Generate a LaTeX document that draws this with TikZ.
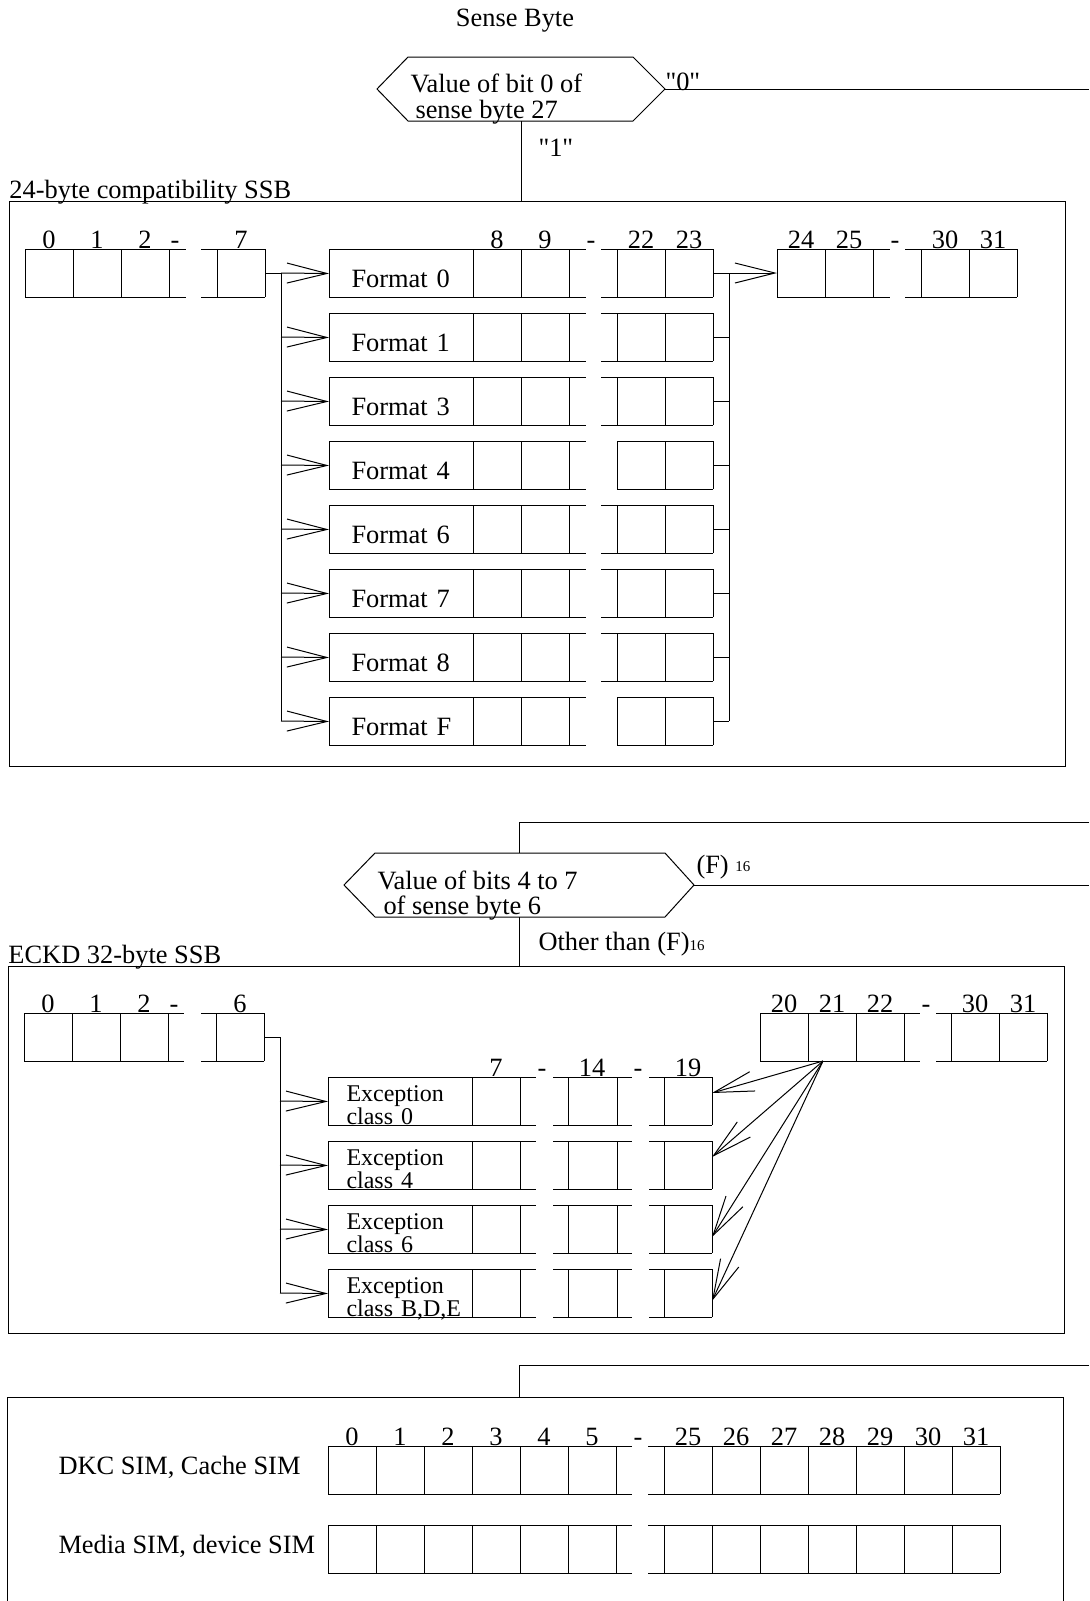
\documentclass[tikz,border=0pt]{standalone}
\usepackage{fontspec}
\setmainfont{Liberation Serif}[Ligatures=TeXOff]
\usetikzlibrary{arrows.meta, positioning, calc}

% one group of byte cells: top y, from x, to x, list of vertical rules
\newcommand{\bytegroup}[4]{%
  \draw (#2,#1) -- (#3,#1) (#2,#1+48) -- (#3,#1+48);
  \foreach \vx in {#4} \draw (\vx,#1) -- (\vx,#1+48);
}

\tikzset{
  fmt/.style={draw, anchor=north west, minimum width=72pt, minimum height=24pt,
              text width=50pt, inner xsep=11pt, inner ysep=0pt, align=left,
              text height=14pt, text depth=0pt},
  exc/.style={draw, anchor=north west, minimum width=72pt, minimum height=24pt,
              text width=54pt, inner xsep=9pt, inner ysep=0pt, align=left,
              text height=12pt, text depth=12pt, font=\fontsize{12}{11.7}\selectfont},
  frame/.style={draw, anchor=north west, inner sep=0pt, minimum width=528pt},
  arr/.style={-{Straight Barb[length=20pt, width=10pt]}},
  num/.style={anchor=base, inner sep=0pt},
  lbl/.style={anchor=base west, inner sep=0pt}
}

\begin{document}
\begin{tikzpicture}[x=0.5pt, y=-0.5pt, line width=0.5pt, font=\fontsize{13.2}{15}\selectfont]
\useasboundingbox (0,0) rectangle (1089,1601);

\node[num] (title) at (515,26) {Sense Byte};

% --- bit 0 of sense byte 27
\draw (377,89) -- (408,57) -- (633,57) -- (665,89) -- (633,121) -- (408,121) -- cycle;
\coordinate (q1e) at (665,89);
\coordinate (q1s) at (521,121);
\coordinate (out1) at (1089,89);
\node[lbl] (q1a) at (410,92) {Value of bit 0 of};
\node[lbl] (q1b) at (415,118) {sense byte 27};
\node[lbl] (zero) at (665,90) {"0"};
\node[lbl] (one) at (538,156) {"1"};
\draw (q1e) -- (out1);

\node[lbl] (t24) at (9,198) {24-byte compatibility SSB};
\node[frame, minimum height=282.5pt] (ssb24) at (9,201) {};
\draw (q1s) -- (q1s |- ssb24.north);

\bytegroup{249}{25}{186}{25,73,121,169}
\bytegroup{249}{201}{265}{217,265}
\foreach \x/\t [count=\k] in {49/0,97/1,145/2,175/-,241/7}
  \node[num] (a\k) at (\x,248) {\t};
\foreach \x/\t [count=\k] in {497/8,545/9,591/-,641/22,689/23}
  \node[num] (b\k) at (\x,248) {\t};
\bytegroup{249}{777}{890}{777,825,873}
\bytegroup{249}{905}{1017}{921,969,1017}
\foreach \x/\t [count=\k] in {801/24,849/25,895/-,945/30,993/31}
  \node[num] (c\k) at (\x,248) {\t};

\foreach \f/\s [count=\i from 0] in {0/601,1/601,3/601,4/617,6/601,7/601,8/601,F/617}{
  \pgfmathsetmacro{\y}{249+64*\i}
  \node[fmt] (f\f) at (329,\y) {Format \f};
  \bytegroup{\y}{473}{586}{521,569}
  \bytegroup{\y}{\s}{713}{617,665,713}
  \coordinate (tl\f) at (281,\y+24);
  \coordinate (fe\f) at (713,\y+24);
  \coordinate (tr\f) at (729,\y+24);
  \draw[arr] (tl\f) -- (f\f.west);
  \draw (fe\f) -- (tr\f);
}
\coordinate (b7) at (265,273);
\coordinate (b24) at (777,273);
\draw (b7) -- (tl0);
\draw (tl0) -- (tlF);
\draw (tr0) -- (trF);
\draw[arr] (tr0) -- (b24);

% --- bits 4 to 7 of sense byte 6
\draw (344,885) -- (375,853) -- (665,853) -- (694,885) -- (665,917) -- (375,917) -- cycle;
\coordinate (q2n) at (519,853);
\coordinate (q2s) at (519,917);
\coordinate (q2e) at (694,885);
\coordinate (out2a) at (1089,822);
\coordinate (out2b) at (1089,885);
\node[lbl] (q2a) at (377,889) {Value of bits 4 to 7};
\node[lbl] (q2b) at (383,914) {of sense byte 6};
\node[lbl] (hexf) at (696,873) {(F) {\fontsize{7.5}{9}\selectfont\raisebox{1pt}{16}}};
\node[lbl] (other) at (538,950) {Other than (F){\fontsize{7.5}{9}\selectfont 16}};
\draw (out2a) -| (q2n);
\draw (q2e) -- (out2b);

\node[lbl] (teckd) at (8,963) {ECKD 32-byte SSB};
\node[frame, minimum height=183.5pt] (eckd) at (8,966) {};
\draw (q2s) -- (q2s |- eckd.north);

\bytegroup{1013}{24}{184}{24,72,120,168}
\bytegroup{1013}{201}{264}{216,264}
\foreach \x/\t [count=\k] in {48/0,96/1,144/2,174/-,240/6}
  \node[num] (d\k) at (\x,1012) {\t};
\bytegroup{1013}{760}{920}{760,808,856,904}
\bytegroup{1013}{936}{1047}{951,999,1047}
\foreach \x/\t [count=\k] in {784/20,832/21,880/22,926/-,975/30,1023/31}
  \node[num] (g\k) at (\x,1012) {\t};
\foreach \x/\t [count=\k] in {496/7,542/-,592/14,638/-,688/19}
  \node[num] (h\k) at (\x,1076) {\t};

\foreach \c/\t [count=\i from 0] in {0/0,4/4,6/6,B/{B,D,E}}{
  \pgfmathsetmacro{\y}{1077+64*\i}
  \node[exc] (e\c) at (328,\y) {Exception\\\mbox{class \t}};
  \bytegroup{\y}{472}{536}{520}
  \bytegroup{\y}{553}{632}{568,617}
  \bytegroup{\y}{649}{712}{664,712}
  \coordinate (te\c) at (280,\y+24);
  \draw[arr] (te\c) -- (e\c.west);
}
\coordinate (b6) at (264,1037);
\draw (b6) -| (teB);

\coordinate (c21) at (823,1061);
\foreach \c/\ty in {0/1093,4/1157,6/1237,B/1301}{
  \coordinate (r\c) at (712,\ty);
  \draw[arr] (c21) -- (r\c);
}

% --- SIM
\coordinate (out3) at (1089,1365);
\node[frame, minimum height=112pt] (sim) at (7,1397) {};
\draw (out3) -| (sim.north -| q2s);
\node[lbl] (dkc) at (58,1474) {DKC SIM, Cache SIM};
\node[lbl] (media) at (58,1553) {Media SIM, device SIM};
\foreach \y in {1446,1525}{
  \bytegroup{\y}{328}{632}{328,376,424,472,520,568,616}
  \bytegroup{\y}{648}{1000}{664,712,760,808,856,904,952,1000}
}
\foreach \x/\t [count=\k] in {352/0,400/1,448/2,496/3,544/4,592/5,638/-,
                             688/25,736/26,784/27,832/28,880/29,928/30,976/31}
  \node[num] (s\k) at (\x,1445) {\t};
\end{tikzpicture}
\end{document}
